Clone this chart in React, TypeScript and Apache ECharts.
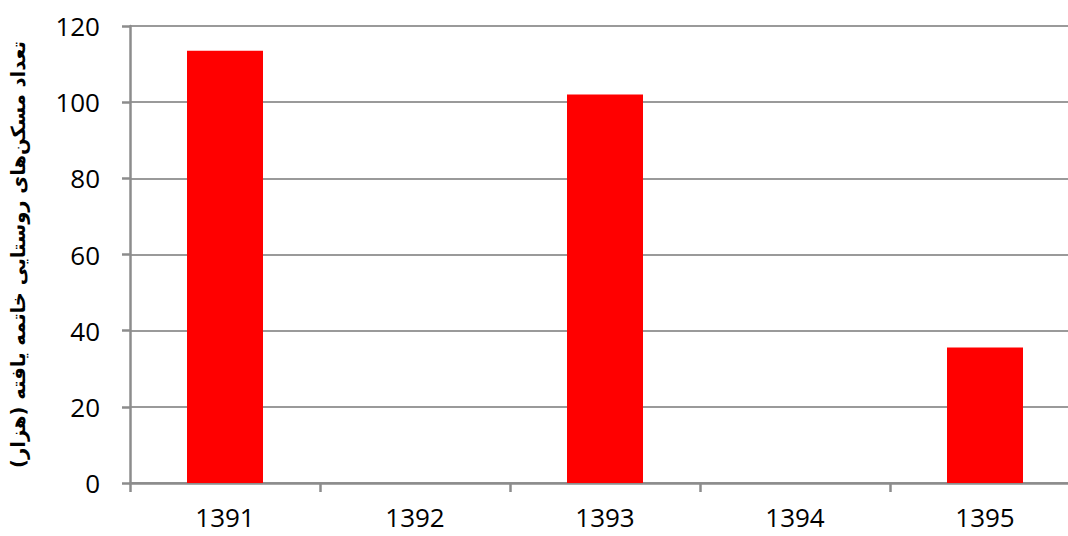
import React, { useEffect, useRef } from "react";
import * as echarts from "echarts";

const categories = ["1391", "1392", "1393", "1394", "1395"];
const values = [113.5, 0, 102, 0, 35.6];
const yTitle = "تعداد مسکن‌های روستایی خاتمه یافته (هزار)";

export default function App() {
  const ref = useRef<HTMLDivElement>(null);
  useEffect(() => {
    if (!ref.current) return;
    const chart = echarts.init(ref.current, null, { renderer: "svg" });
    chart.setOption({
      animation: false,
      grid: { left: 130, right: 0, top: 26, bottom: 53, containLabel: false },
      xAxis: {
        type: "category",
        data: categories,
        axisLine: { show: true, lineStyle: { color: "#8c8c8c", width: 2.5 } },
        axisTick: { show: true, length: 9, lineStyle: { color: "#8c8c8c", width: 2.5 } },
        axisLabel: { color: "#000", fontSize: 26, fontFamily: "Open Sans", margin: 21 },
      },
      yAxis: {
        type: "value",
        min: 0,
        max: 120,
        interval: 20,
        name: yTitle,
        nameLocation: "middle",
        nameGap: 102,
        nameRotate: 90,
        nameTextStyle: { color: "#000", fontSize: 19.5, fontWeight: "bold", fontFamily: "DejaVu Sans" },
        axisLine: { show: true, lineStyle: { color: "#8c8c8c", width: 2.5 } },
        axisTick: { show: true, length: 8, lineStyle: { color: "#8c8c8c", width: 2.5 } },
        axisLabel: { color: "#000", fontSize: 26, fontFamily: "Open Sans", margin: 30 },
        splitLine: { show: true, lineStyle: { color: "#9a9a9a", width: 2 } },
      },
      series: [
        {
          type: "bar",
          data: values,
          barWidth: "40%",
          itemStyle: { color: "#ff0000" },
        },
      ],
    });
    return () => chart.dispose();
  }, []);
  return (
    <div style={{ position: "fixed", left: 0, top: 0, width: 1068, height: 536, overflow: "hidden", background: "#fff" }}>
      <div ref={ref} style={{ width: 1080, height: 536 }} />
    </div>
  );
}
